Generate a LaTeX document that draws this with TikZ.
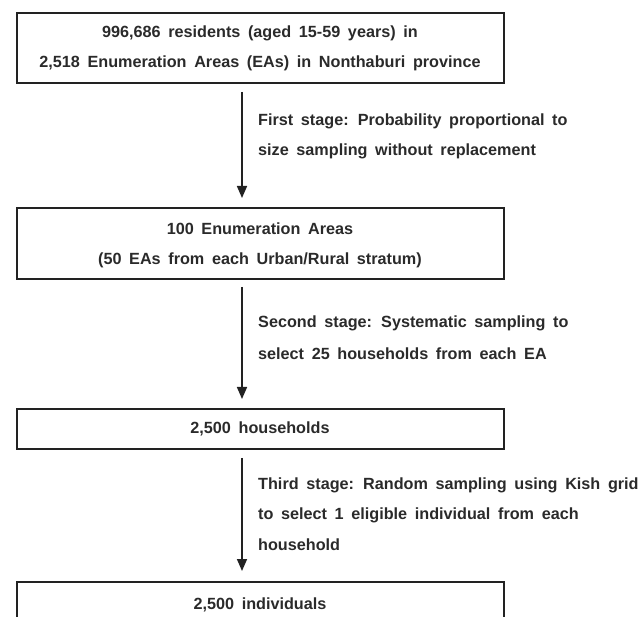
\documentclass[tikz,border=0pt]{standalone}
\usepackage{fontspec}
\setmainfont{Liberation Sans}[WordSpace=1.7]
\usetikzlibrary{arrows.meta}
\definecolor{ink}{HTML}{222222}
\definecolor{txt}{HTML}{2A2A2A}
\tikzset{
  flowbox/.style={draw=ink, line width=1.8pt, fill=none},
  boxtext/.style={text=txt, font=\fontsize{16.2}{16}\selectfont\bfseries, anchor=center, inner sep=0pt},
  stagetext/.style={text=txt, font=\fontsize{16.2}{16}\selectfont\bfseries, anchor=west, inner sep=0pt},
  flowarrow/.style={draw=ink, line width=1.6pt, -{Triangle[length=12pt,width=10pt]}}
}
\begin{document}
\begin{tikzpicture}[x=1pt,y=-1pt]
\useasboundingbox (0,0) rectangle (643,617);
% boxes
\node[flowbox, minimum width=487pt, minimum height=70pt, anchor=north west] (b1) at (16,12) {};
\node[flowbox, minimum width=487pt, minimum height=71pt, anchor=north west] (b2) at (16,207) {};
\node[flowbox, minimum width=487pt, minimum height=40pt, anchor=north west] (b3) at (16,408) {};
\begin{scope}
\clip (0,0) rectangle (643,617);
\node[flowbox, minimum width=487pt, minimum height=60pt, anchor=north west] (b4) at (16,581) {};
\end{scope}
% box texts
\node[boxtext] (t1a) at (260,33) {996,686 residents (aged 15-59 years) in};
\node[boxtext] (t1b) at (260,63) {2,518 Enumeration Areas (EAs) in Nonthaburi province};
\node[boxtext] (t2a) at (260,229) {100 Enumeration Areas};
\node[boxtext] (t2b) at (260,260) {(50 EAs from each Urban/Rural stratum)};
\node[boxtext] (t3) at (260,429) {2,500 households};
\node[boxtext] (t4) at (260,605) {2,500 individuals};
% arrows
\coordinate (a1s) at (242,92);
\coordinate (a1e) at (242,198);
\coordinate (a2s) at (242,287);
\coordinate (a2e) at (242,399);
\coordinate (a3s) at (242,458);
\coordinate (a3e) at (242,571);
\draw[flowarrow] (a1s) -- (a1e);
\draw[flowarrow] (a2s) -- (a2e);
\draw[flowarrow] (a3s) -- (a3e);
% stage labels
\node[stagetext] (s1a) at (258,121) {First stage: Probability proportional to};
\node[stagetext] (s1b) at (258,151) {size sampling without replacement};
\node[stagetext] (s2a) at (258,323) {Second stage: Systematic sampling to};
\node[stagetext] (s2b) at (258,354) {select 25 households from each EA};
\node[stagetext] (s3a) at (258,485) {Third stage: Random sampling using Kish grid};
\node[stagetext] (s3b) at (258,515) {to select 1 eligible individual from each};
\node[stagetext] (s3c) at (258,545) {household};
\end{tikzpicture}
\end{document}
